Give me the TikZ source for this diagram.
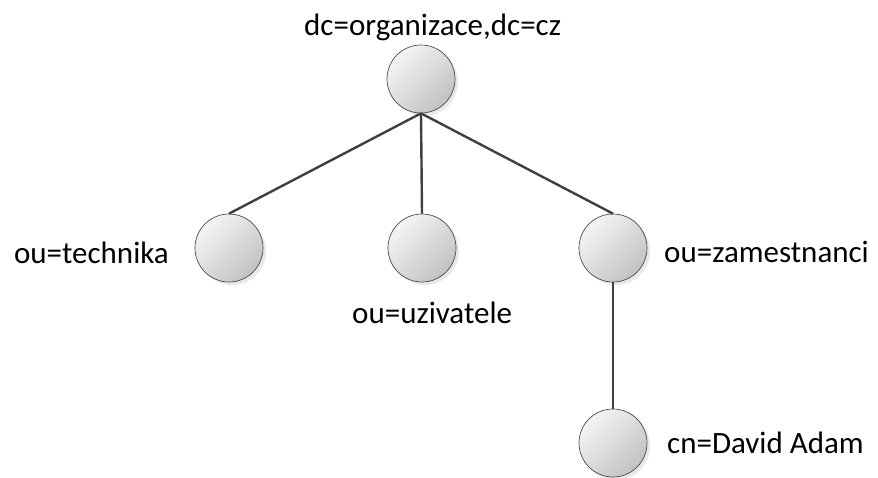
\documentclass[tikz,border=0pt]{standalone}
\usepackage{fontspec}
\setmainfont{Carlito}
\usetikzlibrary{shadows}
\begin{document}
\begin{tikzpicture}[x=1pt,y=-1pt,
  ball/.style={circle,minimum size=68pt,inner sep=0pt,draw=black!70,line width=0.7pt,
    shade,shading=axis,top color=black!4,bottom color=black!24,
    shading angle=45,
    drop shadow={shadow xshift=3pt,shadow yshift=-3pt,fill=black!15,opacity=0.6}},
  edge/.style={draw=black!75,line width=2.4pt},
  lab/.style={font=\fontsize{31}{36}\selectfont,inner sep=0pt}]
\useasboundingbox (0,0) rectangle (878,477);
\node[ball] (root) at (421,79) {};
\node[ball] (tech) at (229,248) {};
\node[ball] (uziv) at (422,248) {};
\node[ball] (zam) at (613,248) {};
\node[ball] (david) at (613,443) {};
\draw[edge] (root.south) -- (tech.north);
\draw[edge] (root.south) -- (uziv.north);
\draw[edge] (root.south) -- (zam.north);
\draw[edge] (zam.south) -- (david.north);
\node[lab,anchor=base west] (troot) at (304,35) {dc=organizace,dc=cz};
\node[lab,anchor=base east] (ttech) at (169,263) {ou=technika};
\node[lab,anchor=base west] (tuziv) at (352,323) {ou=uzivatele};
\node[lab,anchor=base west] (tzam) at (664,262) {ou=zamestnanci};
\node[lab,anchor=base west] (tdavid) at (667,453) {cn=David Adam};
\end{tikzpicture}
\end{document}
